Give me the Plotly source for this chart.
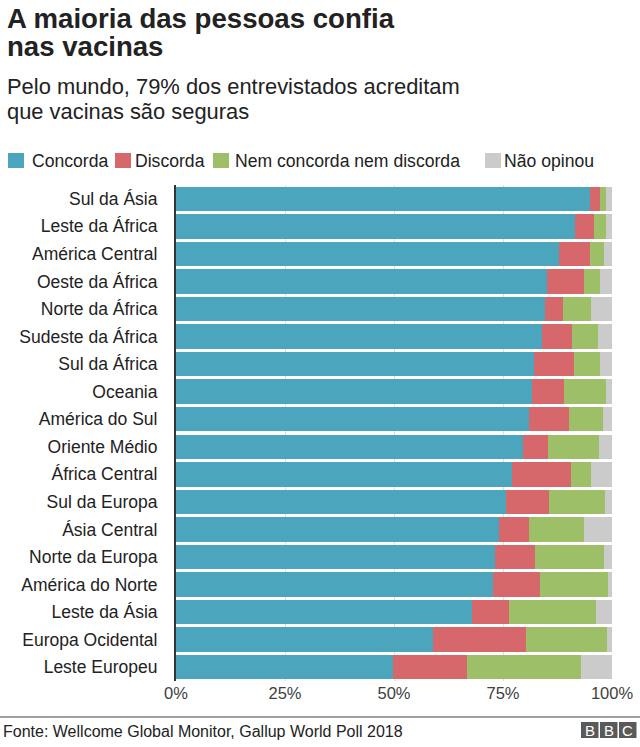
import plotly.graph_objects as go

regions = ["Sul da Ásia", "Leste da África", "América Central", "Oeste da África",
           "Norte da África", "Sudeste da África", "Sul da África", "Oceania",
           "América do Sul", "Oriente Médio", "África Central", "Sul da Europa",
           "Ásia Central", "Norte da Europa", "América do Norte", "Leste da Ásia",
           "Europa Ocidental", "Leste Europeu"]
concorda = [94.9, 91.5, 87.8, 85.0, 84.6, 83.9, 82.0, 81.6, 80.9, 79.5, 77.1, 75.7,
            74.1, 73.1, 72.6, 67.9, 59.0, 49.8]
discorda = [2.3, 4.4, 7.1, 8.5, 4.1, 7.0, 9.3, 7.4, 9.2, 5.9, 13.6, 9.9,
            6.9, 9.3, 10.9, 8.4, 21.3, 16.9]
nem = [1.4, 2.7, 3.3, 3.7, 6.4, 5.9, 5.9, 9.6, 7.8, 11.6, 4.4, 12.9,
       12.6, 15.7, 15.5, 20.1, 18.5, 26.2]
nao = [round(100 - a - b - c, 1) for a, b, c in zip(concorda, discorda, nem)]

series_names = ["Concorda", "Discorda", "Nem concorda nem discorda", "Não opinou"]
series_values = [concorda, discorda, nem, nao]
colors = ["#4BA6BD", "#D6676A", "#9CBF67", "#CBCBCB"]
x_ticks = [0, 25, 50, 75, 100]
x_tick_labels = ["0%", "25%", "50%", "75%", "100%"]

FONT = "Liberation Sans, Arial, Helvetica, sans-serif"
TXT = "#222222"

fig = go.Figure()
for name, vals, col in zip(series_names, series_values, colors):
    fig.add_trace(go.Bar(y=regions, x=vals, name=name, orientation="h",
                         marker=dict(color=col, line=dict(width=0)),
                         showlegend=False, hoverinfo="x+y+name"))

W, H = 640, 747
ml, mr, mt, mb = 176, 28, 185, 66
PW, PH = W - ml - mr, H - mt - mb

fig.update_layout(
    width=W, height=H, barmode="stack", bargap=0.11,
    paper_bgcolor="white", plot_bgcolor="white",
    margin=dict(l=ml, r=mr, t=mt, b=mb, autoexpand=False),
    font=dict(family=FONT, size=17, color=TXT),
    xaxis=dict(range=[0, 100], tickvals=x_ticks, ticktext=x_tick_labels,
               showgrid=True, gridcolor="#DDDDDD", gridwidth=1, zeroline=False,
               showline=False, ticks="", tickfont=dict(size=16.5, color="#404040"),
               fixedrange=True),
    yaxis=dict(categoryorder="array", categoryarray=regions, autorange="reversed",
               showline=True, linecolor="#333333", linewidth=2, ticks="outside",
               ticklen=13, tickcolor="rgba(0,0,0,0)", showgrid=False,
               tickfont=dict(size=17.5, color=TXT), fixedrange=True),
)

def px_x(p):
    return (p - ml) / PW

def px_y(p):
    return 1 - (p - mt) / PH

annotations = []
shapes = []

def text_at(text, x, ymid, size, color=TXT, anchor="left", bold=False):
    if bold:
        text = "<b>" + text + "</b>"
    annotations.append(dict(text=text, x=px_x(x), y=px_y(ymid), xref="paper", yref="paper",
                            xanchor=anchor, yanchor="middle", showarrow=False,
                            font=dict(size=size, color=color, family=FONT)))

# Title (two lines) and subtitle (two lines)
text_at("A maioria das pessoas confia", 5, 18.5, 27.6, bold=True)
text_at("nas vacinas", 5, 46, 27.6, bold=True)
text_at("Pelo mundo, 79% dos entrevistados acreditam", 5, 86.5, 21.9)
text_at("que vacinas são seguras", 5, 111, 21.9)

# Legend
legend_items = [(8, 30), (115, 133), (213, 233), (485, 502)]
for (sq, tx), name, col in zip(legend_items, series_names, colors):
    shapes.append(dict(type="rect", xref="paper", yref="paper",
                       x0=px_x(sq), x1=px_x(sq + 16), y0=px_y(153), y1=px_y(168),
                       fillcolor=col, line=dict(width=0)))
    text_at(name, tx, 160.5, 17.6)

# Footer
shapes.append(dict(type="line", xref="paper", yref="paper", x0=px_x(0), x1=px_x(W),
                   y0=px_y(717), y1=px_y(717), line=dict(color="#444444", width=1.2)))
text_at("Fonte: Wellcome Global Monitor, Gallup World Poll 2018", 1, 731, 16)
for i, letter in enumerate("BBC"):
    x0 = 581 + i * 19
    shapes.append(dict(type="rect", xref="paper", yref="paper",
                       x0=px_x(x0), x1=px_x(x0 + 17.5), y0=px_y(738), y1=px_y(722),
                       fillcolor="#5a5a5a", line=dict(width=0)))
    text_at(letter, x0 + 8.75, 730.5, 15, color="white", anchor="center")

fig.update_layout(annotations=annotations, shapes=shapes)
fig.write_html("out.html", config={"displayModeBar": False},
               post_script="document.body.style.margin='0';")
